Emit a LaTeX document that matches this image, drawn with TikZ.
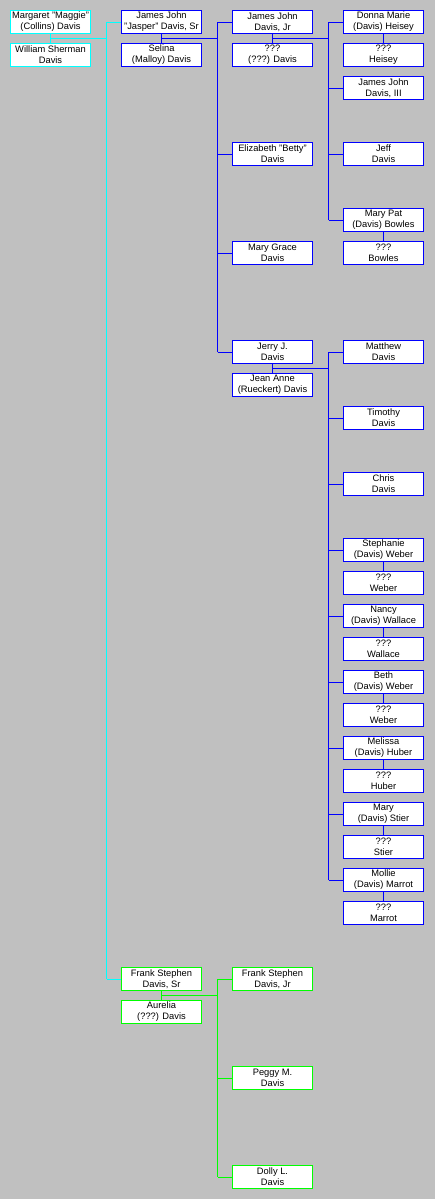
\documentclass[tikz,border=0pt]{standalone}
\usepackage{fontspec}
\setmainfont{Liberation Sans}
\usepackage{tikz}
\usetikzlibrary{calc}
\definecolor{cyanx}{HTML}{00FFFF}
\definecolor{bluex}{HTML}{0000FF}
\definecolor{greenx}{HTML}{00FF00}
\definecolor{silverbg}{HTML}{C0C0C0}
\tikzset{
  pbox/.style={draw=#1,line width=0.75pt,fill=white,minimum width=60pt,minimum height=17.25pt,
    inner sep=0pt,align=center,font=\fontsize{7}{8.25}\selectfont},
  ln/.style={draw=#1,line width=0.75pt}
}
\def\rw#1{22+33*#1}

\begin{document}
\begin{tikzpicture}[x=0.75pt,y=-0.75pt]
\def\ca{50.5}\def\cb{161.5}\def\cc{272.5}\def\cd{383.5}
\fill[silverbg] (0,0) rectangle (435,1199);
\useasboundingbox (0,0) rectangle (435,1199);
\coordinate (busa) at (106.5,0); \coordinate (busb) at (217.5,0); \coordinate (busc) at (328.5,0);
% first generation
\node[pbox=cyanx] (margaret) at (\ca,\rw0) {Margaret "Maggie"\\(Collins) Davis};
\node[pbox=cyanx] (william) at (\ca,\rw1) {William Sherman\\Davis};
% second generation
\node[pbox=bluex] (jasper) at (\cb,\rw0) {James John\\"Jasper" Davis, Sr};
\node[pbox=bluex] (selina) at (\cb,\rw1) {Selina\\(Malloy) Davis};
\node[pbox=greenx] (franksr) at (\cb,\rw{29}) {Frank Stephen\\Davis, Sr};
\node[pbox=greenx] (aurelia) at (\cb,\rw{30}) {Aurelia\\(???) Davis};
% third generation
\node[pbox=bluex] (jamesjr) at (\cc,\rw0) {James John\\Davis, Jr};
\node[pbox=bluex] (jrwife) at (\cc,\rw1) {???\\(???) Davis};
\node[pbox=bluex] (betty) at (\cc,\rw4) {Elizabeth "Betty"\\Davis};
\node[pbox=bluex] (marygrace) at (\cc,\rw7) {Mary Grace\\Davis};
\node[pbox=bluex] (jerry) at (\cc,\rw{10}) {Jerry J.\\Davis};
\node[pbox=bluex] (jeananne) at (\cc,\rw{11}) {Jean Anne\\(Rueckert) Davis};
\node[pbox=greenx] (frankjr) at (\cc,\rw{29}) {Frank Stephen\\Davis, Jr};
\node[pbox=greenx] (peggy) at (\cc,\rw{32}) {Peggy M.\\Davis};
\node[pbox=greenx] (dolly) at (\cc,\rw{35}) {Dolly L.\\Davis};
% fourth generation
\node[pbox=bluex] (donna) at (\cd,\rw0) {Donna Marie\\(Davis) Heisey};
\node[pbox=bluex] (heisey) at (\cd,\rw1) {???\\Heisey};
\node[pbox=bluex] (jamesiii) at (\cd,\rw2) {James John\\Davis, III};
\node[pbox=bluex] (jeff) at (\cd,\rw4) {Jeff\\Davis};
\node[pbox=bluex] (marypat) at (\cd,\rw6) {Mary Pat\\(Davis) Bowles};
\node[pbox=bluex] (bowles) at (\cd,\rw7) {???\\Bowles};
\node[pbox=bluex] (matthew) at (\cd,\rw{10}) {Matthew\\Davis};
\node[pbox=bluex] (timothy) at (\cd,\rw{12}) {Timothy\\Davis};
\node[pbox=bluex] (chris) at (\cd,\rw{14}) {Chris\\Davis};
\node[pbox=bluex] (stephanie) at (\cd,\rw{16}) {Stephanie\\(Davis) Weber};
\node[pbox=bluex] (weberA) at (\cd,\rw{17}) {???\\Weber};
\node[pbox=bluex] (nancy) at (\cd,\rw{18}) {Nancy\\(Davis) Wallace};
\node[pbox=bluex] (wallace) at (\cd,\rw{19}) {???\\Wallace};
\node[pbox=bluex] (beth) at (\cd,\rw{20}) {Beth\\(Davis) Weber};
\node[pbox=bluex] (weberB) at (\cd,\rw{21}) {???\\Weber};
\node[pbox=bluex] (melissa) at (\cd,\rw{22}) {Melissa\\(Davis) Huber};
\node[pbox=bluex] (huber) at (\cd,\rw{23}) {???\\Huber};
\node[pbox=bluex] (mary) at (\cd,\rw{24}) {Mary\\(Davis) Stier};
\node[pbox=bluex] (stier) at (\cd,\rw{25}) {???\\Stier};
\node[pbox=bluex] (mollie) at (\cd,\rw{26}) {Mollie\\(Davis) Marrot};
\node[pbox=bluex] (marrot) at (\cd,\rw{27}) {???\\Marrot};
% couples
\draw[ln=cyanx] (margaret.south) -- (william.north);
\foreach \a/\b in {jasper/selina,jamesjr/jrwife,jerry/jeananne,donna/heisey,marypat/bowles,
  stephanie/weberA,nancy/wallace,beth/weberB,melissa/huber,mary/stier,mollie/marrot}
  \draw[ln=bluex] (\a.south) -- (\b.north);
\draw[ln=greenx] (franksr.south) -- (aurelia.north);
% Margaret and William's children
\coordinate (ma) at ($(margaret.south)!.5!(william.north)$);
\draw[ln=cyanx] (ma) -- (ma -| busa) (jasper.west -| busa) -- (franksr.west -| busa);
\foreach \k in {jasper,franksr} \draw[ln=cyanx] (\k.west -| busa) -- (\k.west);
% Jasper and Selina's children
\coordinate (mb) at ($(jasper.south)!.5!(selina.north)$);
\draw[ln=bluex] (mb) -- (mb -| busb) (jamesjr.west -| busb) -- (jerry.west -| busb);
\foreach \k in {jamesjr,betty,marygrace,jerry} \draw[ln=bluex] (\k.west -| busb) -- (\k.west);
% James Jr's children
\coordinate (mc) at ($(jamesjr.south)!.5!(jrwife.north)$);
\draw[ln=bluex] (mc) -- (mc -| busc) (donna.west -| busc) -- (marypat.west -| busc);
\foreach \k in {donna,jamesiii,jeff,marypat} \draw[ln=bluex] (\k.west -| busc) -- (\k.west);
% Jerry and Jean Anne's children
\coordinate (md) at ($(jerry.south)!.5!(jeananne.north)$);
\draw[ln=bluex] (md) -- (md -| busc) (matthew.west -| busc) -- (mollie.west -| busc);
\foreach \k in {matthew,timothy,chris,stephanie,nancy,beth,melissa,mary,mollie}
  \draw[ln=bluex] (\k.west -| busc) -- (\k.west);
% Frank Sr and Aurelia's children
\coordinate (me) at ($(franksr.south)!.5!(aurelia.north)$);
\draw[ln=greenx] (me) -- (me -| busb) (frankjr.west -| busb) -- (dolly.west -| busb);
\foreach \k in {frankjr,peggy,dolly} \draw[ln=greenx] (\k.west -| busb) -- (\k.west);
\end{tikzpicture}
\end{document}
